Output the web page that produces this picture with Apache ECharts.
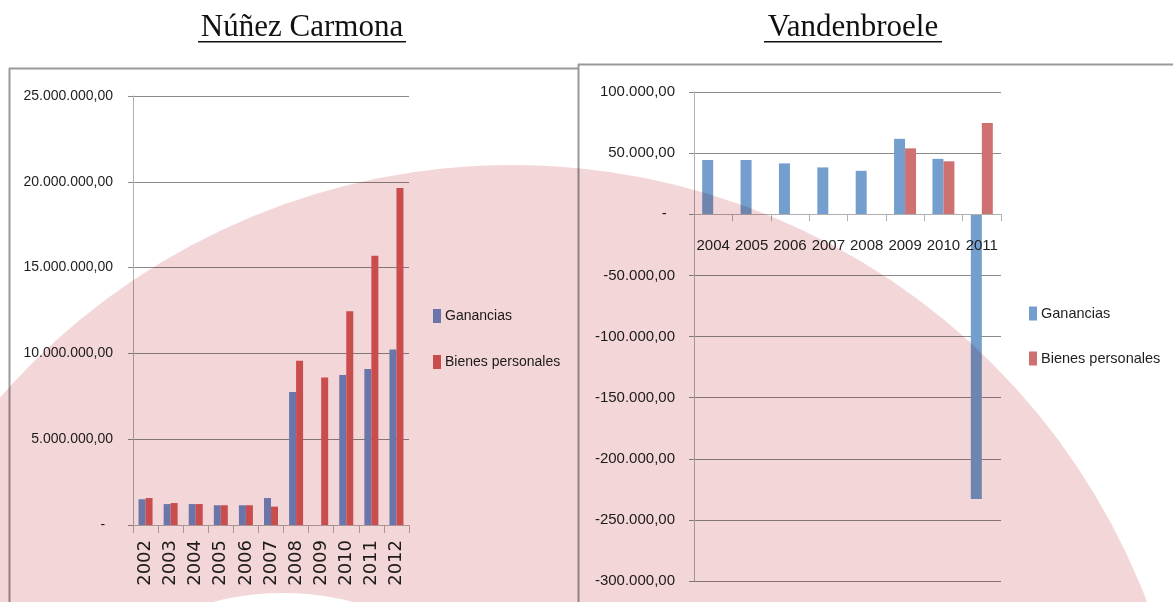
<!DOCTYPE html>
<html>
<head>
<meta charset="utf-8">
<script src="https://cdn.jsdelivr.net/npm/echarts@6/dist/echarts.min.js"></script>
<style>
html,body{margin:0;padding:0;background:#fff;}
#chart{width:1173px;height:602px;}
</style>
</head>
<body>
<div id="chart"></div>
<script>
// ---- Data ----
var titleLeft = 'Núñez Carmona';
var titleRight = 'Vandenbroele';
var seriesNames = ['Ganancias', 'Bienes personales'];

var yearsLeft = ['2002','2003','2004','2005','2006','2007','2008','2009','2010','2011','2012'];
var gananciasLeft = [1500000, 1220000, 1220000, 1150000, 1150000, 1570000, 7750000, null, 8740000, 9090000, 10220000];
var bienesLeft = [1570000, 1280000, 1220000, 1150000, 1150000, 1070000, 9570000, 8600000, 12450000, 15690000, 19640000];

var yearsRight = ['2004','2005','2006','2007','2008','2009','2010','2011'];
var gananciasRight = [44400, 44400, 41600, 38300, 35500, 61700, 45300, -233000];
var bienesRight = [null, null, null, null, null, 53900, 43300, 74600];

var leftTicks = {min: 0, max: 25000000, interval: 5000000};
var rightTicks = {min: -300000, max: 100000, interval: 50000};

// ---- Helpers ----
function fmt(v) {
  if (v === 0) return '-  ';
  var neg = v < 0;
  var s = String(Math.abs(Math.round(v))).replace(/\B(?=(\d{3})+(?!\d))/g, '.');
  return (neg ? '-' : '') + s + ',00';
}

var SANS = '"Liberation Sans", Arial, sans-serif';
var gridCol = '#8A8A8A';
var axisCol = '#B0B0B0';

// right grid geometry (layout) and where the zero line falls inside it
var rightGrid = {left: 694, top: 92, width: 307, height: 489};
var zeroOffset = rightGrid.height * rightTicks.max / (rightTicks.max - rightTicks.min);

var chart = echarts.init(document.getElementById('chart'), null, {renderer: 'canvas'});

var option = {
  backgroundColor: '#ffffff',
  animation: false,
  grid: [
    {left: 133, top: 96, width: 276, height: 429, outerBoundsMode: 'none', containLabel: false},
    {left: rightGrid.left, top: rightGrid.top, width: rightGrid.width, height: rightGrid.height, outerBoundsMode: 'none', containLabel: false}
  ],
  legend: [
    {
      data: seriesNames.map(function (n) { return {name: n}; }),
      orient: 'vertical', left: 433, top: 309, itemWidth: 8, itemHeight: 14, itemGap: 32,
      icon: 'rect', padding: 0,
      textStyle: {fontFamily: SANS, fontSize: 14, color: '#1e1e1e', padding: [0, 0, 0, -1]},
      selectedMode: false
    },
    {
      data: [
        {name: seriesNames[0] + ' ', itemStyle: {color: '#739ECD'}},
        {name: seriesNames[1] + ' ', itemStyle: {color: '#D07171'}}
      ],
      formatter: function (n) { return n.trim(); },
      orient: 'vertical', left: 1029, top: 306, itemWidth: 8, itemHeight: 14, itemGap: 30,
      icon: 'rect', padding: 0,
      textStyle: {fontFamily: SANS, fontSize: 14.5, color: '#1e1e1e', padding: [0, 0, 0, -1]},
      selectedMode: false
    }
  ],
  xAxis: [
    {
      type: 'category', gridIndex: 0, data: yearsLeft,
      axisLine: {lineStyle: {color: axisCol, width: 1}},
      axisTick: {show: true, length: 8, lineStyle: {color: axisCol}},
      axisLabel: {interval: 0, rotate: 90, margin: 15, fontFamily: '"DejaVu Sans", sans-serif', fontSize: 18, color: '#222'},
      splitLine: {show: false}
    },
    {
      type: 'category', gridIndex: 1, data: yearsRight, z: 5,
      position: 'top', offset: -zeroOffset,
      axisLine: {onZero: false, lineStyle: {color: axisCol, width: 1}},
      axisTick: {show: true, inside: true, interval: 0, length: 7, lineStyle: {color: axisCol}},
      axisLabel: {show: true, inside: true, interval: 0, margin: 24, verticalAlign: 'top', fontFamily: SANS, fontSize: 15, color: '#222'},
      splitLine: {show: false}
    }
  ],
  yAxis: [
    {
      type: 'value', gridIndex: 0, min: leftTicks.min, max: leftTicks.max, interval: leftTicks.interval,
      axisLine: {show: true, lineStyle: {color: axisCol}},
      axisTick: {show: true, length: 5, lineStyle: {color: gridCol}},
      axisLabel: {formatter: fmt, margin: 20, fontFamily: SANS, fontSize: 14, color: '#1e1e1e'},
      splitLine: {show: true, lineStyle: {color: gridCol, width: 1}}
    },
    {
      type: 'value', gridIndex: 1, min: rightTicks.min, max: rightTicks.max, interval: rightTicks.interval,
      axisLine: {show: true, onZero: false, lineStyle: {color: axisCol}},
      axisTick: {show: true, length: 5, lineStyle: {color: gridCol}},
      axisLabel: {formatter: fmt, margin: 19, fontFamily: SANS, fontSize: 15, color: '#1e1e1e'},
      splitLine: {show: true, lineStyle: {color: gridCol, width: 1}}
    }
  ],
  series: [
    {name: seriesNames[0], type: 'bar', xAxisIndex: 0, yAxisIndex: 0, data: gananciasLeft,
      barWidth: 7, barGap: '0%', itemStyle: {color: '#6F8DC9'}},
    {name: seriesNames[1], type: 'bar', xAxisIndex: 0, yAxisIndex: 0, data: bienesLeft,
      barWidth: 7, barGap: '0%', itemStyle: {color: '#D35B5A'}},
    {name: seriesNames[0] + ' ', type: 'bar', xAxisIndex: 1, yAxisIndex: 1, data: gananciasRight,
      barWidth: 11, barGap: '0%', itemStyle: {color: '#739ECD'}},
    {name: seriesNames[1] + ' ', type: 'bar', xAxisIndex: 1, yAxisIndex: 1, data: bienesRight,
      barWidth: 11, barGap: '0%', itemStyle: {color: '#D07171'}}
  ],
  graphic: [
    // frames
    {type: 'line', z: 50, silent: true, shape: {x1: 9, y1: 68.5, x2: 578, y2: 68.5}, style: {stroke: '#9A9A9A', lineWidth: 2}},
    {type: 'line', z: 50, silent: true, shape: {x1: 9.5, y1: 68, x2: 9.5, y2: 602}, style: {stroke: '#9A9A9A', lineWidth: 2}},
    {type: 'line', z: 50, silent: true, shape: {x1: 578, y1: 64.5, x2: 1173, y2: 64.5}, style: {stroke: '#9A9A9A', lineWidth: 2}},
    {type: 'line', z: 50, silent: true, shape: {x1: 578.5, y1: 64, x2: 578.5, y2: 602}, style: {stroke: '#9A9A9A', lineWidth: 2}},
    // titles
    {type: 'text', z: 50, silent: true, x: 302, y: 28, style: {text: titleLeft, fontFamily: '"Liberation Serif", serif', fontSize: 31, fill: '#111', align: 'center', verticalAlign: 'middle'}},
    {type: 'rect', z: 50, silent: true, shape: {x: 198, y: 41, width: 208, height: 1.5}, style: {fill: '#111'}},
    {type: 'text', z: 50, silent: true, x: 853, y: 28, style: {text: titleRight, fontFamily: '"Liberation Serif", serif', fontSize: 31, fill: '#111', align: 'center', verticalAlign: 'middle'}},
    {type: 'rect', z: 50, silent: true, shape: {x: 764, y: 41, width: 178, height: 1.5}, style: {fill: '#111'}},
    // decorative background circle (multiplied over the charts)
    {type: 'circle', z: 100, silent: true, shape: {cx: 512, cy: 845, r: 680}, style: {fill: '#F3D6D8', blend: 'multiply'}},
    {type: 'circle', z: 101, silent: true, shape: {cx: 283, cy: 870, r: 277}, style: {fill: '#ffffff'}}
  ]
};

chart.setOption(option);
</script>
</body>
</html>
